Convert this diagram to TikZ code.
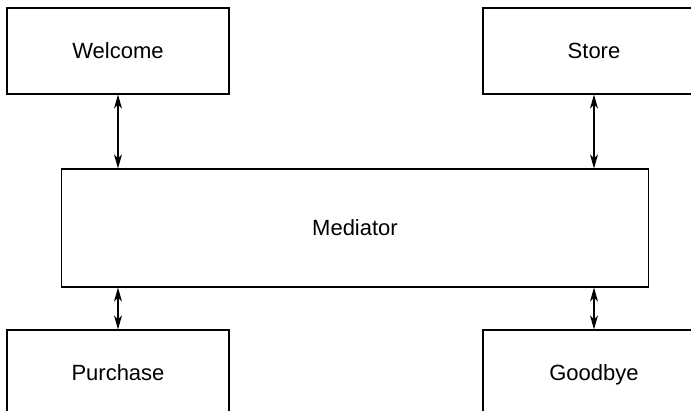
\documentclass[tikz,border=0pt]{standalone}
\usepackage{fontspec}
\setmainfont{Liberation Sans}
\usepackage{tikz}
\usetikzlibrary{arrows.meta, positioning}

\begin{document}
\begin{tikzpicture}[x=1pt, y=-1pt,
    screen/.style={draw, line width=1.2pt, inner sep=0pt,
                   minimum width=222pt, minimum height=86pt,
                   text height=16pt, text depth=0pt,
                   font=\fontsize{22}{26}\selectfont},
    link/.style={line width=1.2pt,
                 {Stealth[length=14pt,width=8pt,inset=4pt]}-{Stealth[length=14pt,width=8pt,inset=4pt]}}]
  \useasboundingbox (0,0) rectangle (691,411);
  \clip (0,0) rectangle (691,411);
  % the four screens and the mediator between them
  \node[screen] (welcome)  at (118,51)  {Welcome};
  \node[screen] (store)    at (594,51)  {Store};
  \node[screen, minimum width=587pt, minimum height=118pt]
                (mediator) at (355,228) {Mediator};
  \node[screen] (purchase) at (118,373) {Purchase};
  \node[screen] (goodbye)  at (594,373) {Goodbye};
  % two-way links
  \draw[link] (welcome.south)  -- (welcome.south  |- mediator.north);
  \draw[link] (store.south)    -- (store.south    |- mediator.north);
  \draw[link] (purchase.north) -- (purchase.north |- mediator.south);
  \draw[link] (goodbye.north)  -- (goodbye.north  |- mediator.south);
\end{tikzpicture}
\end{document}
